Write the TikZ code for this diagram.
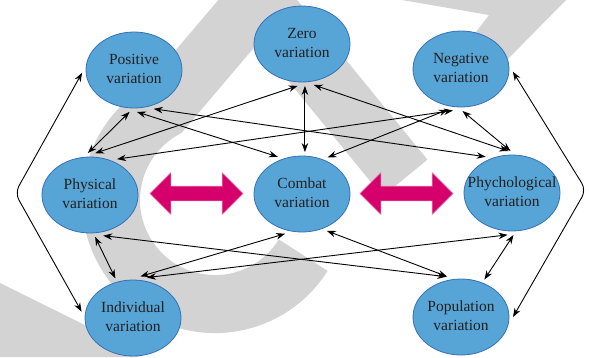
\documentclass[tikz,border=0pt]{standalone}
\usepackage{fontspec}
\setmainfont{Liberation Serif}
\usetikzlibrary{arrows.meta,shapes.geometric,shapes.arrows,backgrounds}
\definecolor{ovalfill}{RGB}{86,165,214}
\definecolor{ovaldraw}{RGB}{54,112,184}
\definecolor{bigarrow}{RGB}{214,0,108}
\definecolor{bigarrowline}{RGB}{236,110,165}
\definecolor{markgray}{RGB}{211,211,211}
\definecolor{labeltext}{RGB}{35,31,32}
\newcommand{\twoline}[2]{\makebox[0pt]{\begin{tabular}{@{}c@{}}#1\\#2\end{tabular}}}
\tikzset{oval/.style={ellipse,draw=ovaldraw,fill=ovalfill,line width=0.8pt,
   minimum width=96pt,minimum height=76pt,inner sep=0pt,outer sep=4pt,
   text=labeltext,font=\fontsize{15.5}{19}\selectfont},
 link/.style={<->,line width=0.9pt,>={Stealth[length=9pt,width=6.5pt]}},
 bothways/.style={double arrow,fill=bigarrow,draw=bigarrowline,line width=0.6pt,
   minimum height=93pt,minimum width=41pt,double arrow head extend=13.5pt,inner sep=7pt},
 wmark/.style={draw=markgray,line width=58pt},
 }

\begin{document}
\begin{tikzpicture}[x=1pt,y=-1pt]
        \useasboundingbox (0,0) rectangle (589,357);
        \begin{scope}[on background layer]
        \clip (0,0) rectangle (589,357);
        \draw[wmark] (258,-2) -- (163,110) arc[start angle=240,end angle=32,radius=104];
        \draw[wmark] (258,-2) -- (405,178);
        \fill[markgray] (402,0) -- (566,0) -- (505,62) -- (470,40) -- (489,15) -- cycle;
        \fill[markgray] (0,283) -- (95,330) -- (140,357) -- (0,357) -- cycle;
        \end{scope}
        \node[oval] (pos) at (134,70) {\twoline{Positive}{variation}};
        \node[oval] (zero) at (302,44) {\twoline{Zero}{variation}};
        \node[oval] (neg) at (461,69) {\twoline{Negative}{variation}};
        \node[oval] (phys) at (90,195) {\twoline{Physical}{variation}};
        \node[oval] (combat) at (302,194) {\twoline{Combat}{variation}};
        \node[oval] (psych) at (512,193) {\twoline{Phychological}{variation}};
        \node[oval] (indiv) at (133,318) {\twoline{Individual}{variation}};
        \node[oval] (popul) at (461,317) {\twoline{Population}{variation}};
        \node[bothways] (leftarr) at (196.5,193.5) {};
        \node[bothways] (rightarr) at (406.5,193.5) {};
        \coordinate (lbend) at (15,193);
        \coordinate (rbend) at (586,190);
        \draw[link] (pos.-96) -- (phys.93);
        \draw[link] (pos.-86) -- (combat.123);
        \draw[link] (pos.-63) -- (psych.126);
        \draw[link] (zero.-96) -- (phys.83);
        \draw[link] (zero.-86) -- (combat.86);
        \draw[link] (zero.-74) -- (psych.95);
        \draw[link] (neg.-101) -- (phys.53);
        \draw[link] (neg.-108) -- (combat.55);
        \draw[link] (neg.-88) -- (psych.92);
        \draw[link] (combat.-113) -- (indiv.80);
        \draw[link] (combat.-56) -- (popul.109);
        \draw[link] (phys.-83) -- (indiv.114);
        \draw[link] (phys.-72) -- (popul.110);
        \draw[link] (indiv.71) -- (psych.-96);
        \draw[link] (psych.-88) -- (popul.58);
        \draw[link,rounded corners=8pt] (pos.183) -- (lbend) -- (indiv.173);
        \draw[link,rounded corners=8pt] (neg.-3) -- (rbend) -- (popul.0);
    \end{tikzpicture}
\end{document}
